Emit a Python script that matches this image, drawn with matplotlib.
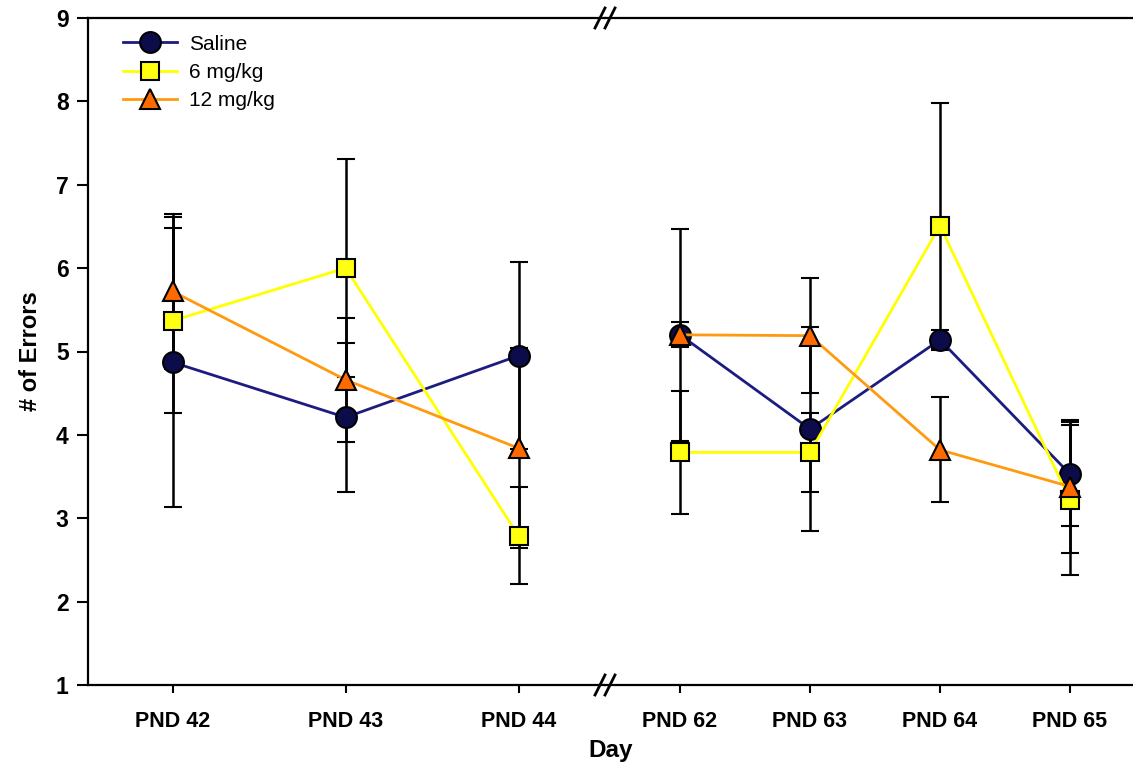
import matplotlib.pyplot as plt
from matplotlib.lines import Line2D

plt.rcParams["font.family"] = ["Liberation Sans", "DejaVu Sans"]

days_early = ["PND 42", "PND 43", "PND 44"]
days_late = ["PND 62", "PND 63", "PND 64", "PND 65"]

saline_mean = [4.87, 4.21, 4.95, 5.20, 4.07, 5.14, 3.53]
saline_sem = [1.74, 0.89, 1.12, 1.27, 1.22, 0.12, 0.62]
mg6_mean = [5.37, 6.00, 2.79, 3.79, 3.79, 6.51, 3.22]
mg6_sem = [1.11, 1.31, 0.58, 0.74, 0.47, 1.47, 0.90]
mg12_mean = [5.72, 4.66, 3.84, 5.20, 5.19, 3.82, 3.38]
mg12_sem = [0.93, 0.74, 1.20, 0.15, 0.69, 0.63, 0.80]

series = [
    ("Saline", saline_mean, saline_sem, "o", "#1c1c80", "#0c0c4a", 15),
    ("6 mg/kg", mg6_mean, mg6_sem, "s", "#ffff00", "#ffff10", 13),
    ("12 mg/kg", mg12_mean, mg12_sem, "^", "#ff9a10", "#ff6a00", 15),
]

fig = plt.figure(figsize=(11.33, 7.7), dpi=100)
bottom, height = 1 - 685 / 770, (685 - 18) / 770
split = 605 / 1133
ax1 = fig.add_axes([88 / 1133, bottom, split - 88 / 1133, height])
ax2 = fig.add_axes([split, bottom, 1 - split, height], sharey=ax1)

n_early = len(days_early)
handles = []
for name, mean, sem, marker, line_c, face_c, ms in series:
    style = dict(color=line_c, lw=2, marker=marker, ms=ms,
                 mfc=face_c, mec="black", mew=1.5)
    for ax, sl, xs in [
        (ax1, slice(0, n_early), range(n_early)),
        (ax2, slice(n_early, None), range(len(days_late))),
    ]:
        ax.errorbar(list(xs), mean[sl], yerr=sem[sl],
                    ecolor="black", elinewidth=1.8, capsize=6.5,
                    capthick=1.8, **style)
    handles.append(Line2D([], [], label=name, **style))

ax1.set_xlim(-0.49, 2.5)
ax2.set_xlim(-0.577, 3.485)
ax1.set_ylim(1, 9)
ax1.set_yticks(range(1, 10))

ax1.set_xticks(range(n_early))
ax1.set_xticklabels(days_early)
ax2.set_xticks(range(len(days_late)))
ax2.set_xticklabels(days_late)

for ax in (ax1, ax2):
    for s in ax.spines.values():
        s.set_linewidth(1.6)
    ax.tick_params(axis="x", direction="out", length=6, width=1.5, pad=13,
                   labelsize=15.5)
    for lab in ax.get_xticklabels():
        lab.set_fontweight("bold")

ax1.spines["right"].set_visible(False)
ax2.spines["left"].set_visible(False)
ax2.spines["right"].set_visible(False)
ax2.tick_params(axis="y", left=False, labelleft=False)
ax1.tick_params(axis="y", direction="out", length=8, width=1.5, pad=6,
                labelsize=16.5)
for lab in ax1.get_yticklabels():
    lab.set_fontweight("bold")

ax1.set_ylabel("# of Errors", fontsize=17, fontweight="bold", labelpad=10)
fig.text((88 + 1133) / 2 / 1133, 1 - 750 / 770, "Day", ha="center",
         va="center", fontsize=17.5, fontweight="bold")

# axis break marks on top and bottom spines
for yf in (1 - 18 / 770, 1 - 685 / 770):
    for dx in (-5, 5):
        xc = (605 + dx) / 1133
        fig.add_artist(Line2D([xc - 5 / 1133, xc + 5 / 1133],
                              [yf - 10 / 770, yf + 10 / 770],
                              color="black", lw=2))

ax1.legend(handles=handles, loc="upper left", bbox_to_anchor=(0.035, 1.0),
           frameon=False, fontsize=15, handlelength=2.6, labelspacing=0.45,
           handletextpad=0.6, borderaxespad=0.4)

fig.savefig("out.png", dpi=100)
